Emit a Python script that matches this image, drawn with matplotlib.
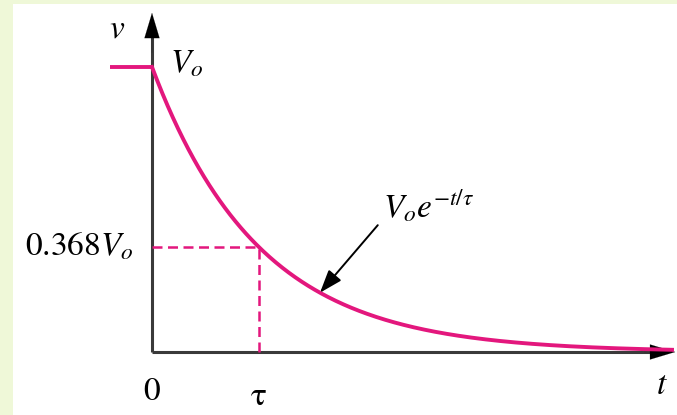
import numpy as np
import matplotlib
matplotlib.use("Agg")
import matplotlib.pyplot as plt

plt.rcParams["mathtext.fontset"] = "stix"
plt.rcParams["font.family"] = ["STIXGeneral", "Liberation Serif", "DejaVu Serif"]

# descarga del capacitor: v(t) = Vo e^(-t/tau)
V0 = 1.0
tau = 1.0
frac_tau = 0.368          # valor en t = tau
t_pre = [-0.39, 0.0]      # tramo constante antes de t = 0
v_pre = [V0, V0]
t_fin = 4.86
t = np.linspace(0, t_fin, 400)
v = V0 * np.exp(-t / tau)

magenta = "#e3177d"
eje = "#3a3a3a"

fig = plt.figure(figsize=(6.77, 4.15), dpi=100, facecolor="#eff8d8")
ax = fig.add_axes([13 / 677, 0, 664 / 677, 411 / 415])
ax.set_facecolor("white")
ax.set_xlim(-139 / 107, 525 / 107)
ax.set_ylim(-63 / 285, 348 / 285)
ax.set_xticks([])
ax.set_yticks([])
for s in ax.spines.values():
    s.set_visible(False)

# ejes con flecha
punta = dict(arrowstyle="-|>,head_length=0.9,head_width=0.27",
             color="black", lw=0.1, shrinkA=0, shrinkB=0, mutation_scale=20)
ax.plot([0, 4.8], [0, 0], color=eje, lw=2.2, solid_capstyle="butt", zorder=2)
ax.plot([0, 0], [0, 1.12], color=eje, lw=2.2, solid_capstyle="butt", zorder=2)
ax.annotate("", xy=(4.89, 0), xytext=(4.6, 0), arrowprops=punta)
ax.annotate("", xy=(0, 1.19), xytext=(0, 1.05), arrowprops=punta)

# curva
ax.plot(t_pre, v_pre, color=magenta, lw=2.8, solid_capstyle="butt", zorder=3)
ax.plot(t, v, color=magenta, lw=2.8, zorder=3)

# lineas de referencia en t = tau
ax.plot([0, tau], [frac_tau * V0] * 2, color=magenta, lw=1.8,
        dashes=(4, 2.2), zorder=3)
ax.plot([tau, tau], [0, frac_tau * V0], color=magenta, lw=1.8,
        dashes=(4, 2.2), zorder=3)

# flecha de la etiqueta
ax.annotate("", xy=(1.57, V0 * np.exp(-1.57 / tau)), xytext=(2.11, 0.445),
            arrowprops=dict(arrowstyle="-|>,head_length=0.7,head_width=0.25",
                            color="black", lw=1.4, shrinkA=0, shrinkB=0,
                            mutation_scale=20))

fs = 24
ax.text(-0.33, 1.13, r"$v$", fontsize=fs, ha="center", va="center")
ax.text(0.17, 1.01, r"$V_o$", fontsize=fs, ha="left", va="center")
ax.text(-0.17, frac_tau * V0, r"$0.368V_o$", fontsize=fs, ha="right", va="center")
ax.text(0, -0.14, "0", fontsize=fs, ha="center", va="center")
ax.text(tau, -0.16, "τ", fontsize=fs, ha="center", va="center")
ax.text(4.77, -0.12, r"$t$", fontsize=fs, ha="center", va="center")
ax.text(2.16, 0.51, r"$V_o e^{-t/\tau}$", fontsize=fs, ha="left", va="center")

fig.savefig("out.png", dpi=100, facecolor=fig.get_facecolor())
